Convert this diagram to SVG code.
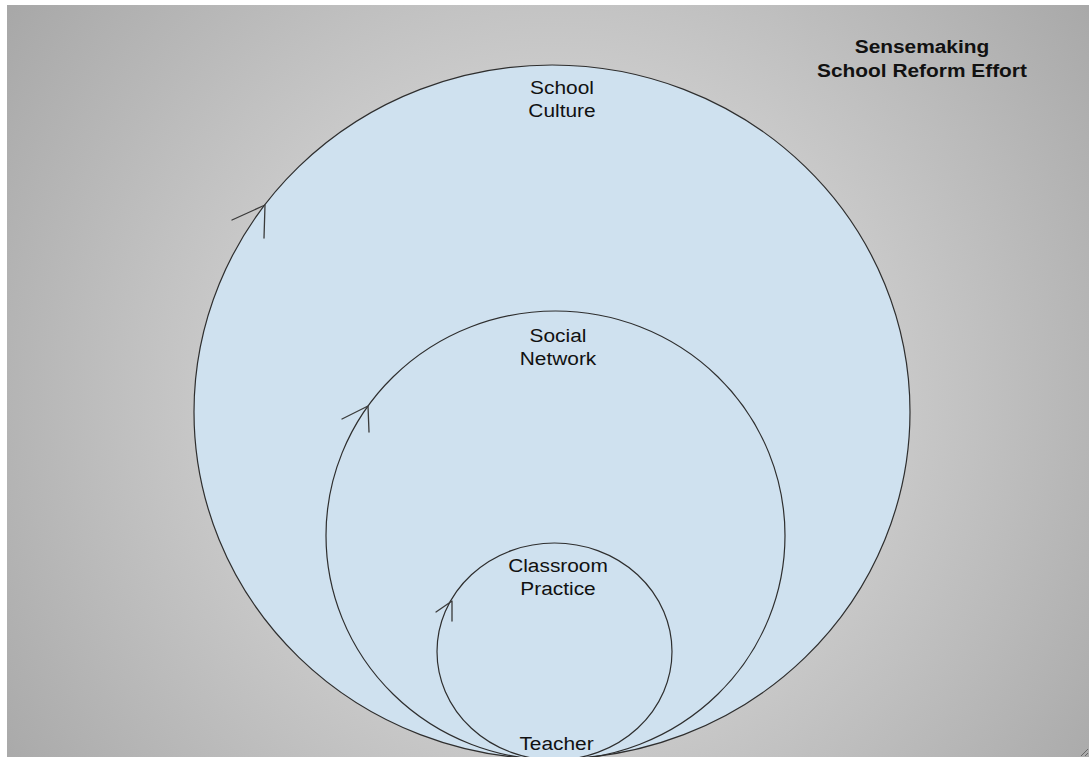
<svg xmlns="http://www.w3.org/2000/svg" width="1089" height="757" viewBox="0 0 1089 757">
  <defs>
    <radialGradient id="bg" gradientUnits="userSpaceOnUse" cx="556" cy="400" r="680">
      <stop offset="0" stop-color="#cecece"/>
      <stop offset="0.5" stop-color="#c9c9c9"/>
      <stop offset="0.75" stop-color="#b8b8b8"/>
      <stop offset="1" stop-color="#a7a7a7"/>
    </radialGradient>
    <style>
      .ell { fill: #cfe1ef; stroke: #2e2e2e; stroke-width: 1.2; }
      .ell2 { fill: none; stroke: #2e2e2e; stroke-width: 1.2; }
      .arr { fill: none; stroke: #3a3a3a; stroke-width: 1.3; stroke-linecap: round; stroke-linejoin: round; }
      .lbl { font-family: "Liberation Sans", Arial, sans-serif; font-size: 18px; fill: #111; text-anchor: middle; }
      .ttl { font-family: "Liberation Sans", Arial, sans-serif; font-size: 18px; font-weight: bold; fill: #111; text-anchor: middle; }
    </style>
  </defs>
  <rect x="0" y="0" width="1089" height="757" fill="#ffffff"/>
  <rect x="7" y="5" width="1082" height="752" fill="url(#bg)"/>

  <g id="school-culture">
    <ellipse class="ell" cx="552" cy="412" rx="358" ry="347"/>
    <g transform="translate(562,0) scale(1.16,1)">
      <text class="lbl" x="0" y="94">School</text>
      <text class="lbl" x="0" y="117">Culture</text>
    </g>
  </g>

  <g id="social-network">
    <ellipse class="ell2" cx="555.5" cy="535.5" rx="229.5" ry="224.5"/>
    <g transform="translate(558,0) scale(1.16,1)">
      <text class="lbl" x="0" y="342">Social</text>
      <text class="lbl" x="0" y="365">Network</text>
    </g>
  </g>

  <g id="classroom-practice">
    <ellipse class="ell2" cx="554.5" cy="651.5" rx="117.5" ry="108.5"/>
    <g transform="translate(558,0) scale(1.16,1)">
      <text class="lbl" x="0" y="572">Classroom</text>
      <text class="lbl" x="0" y="595">Practice</text>
    </g>
  </g>

  <g id="teacher">
    <g transform="translate(556.5,0) scale(1.16,1)">
      <text class="lbl" x="0" y="750">Teacher</text>
    </g>
  </g>

  <g id="title">
    <g transform="translate(922,0) scale(1.16,1)">
      <text class="ttl" x="0" y="53">Sensemaking</text>
      <text class="ttl" x="0" y="77">School Reform Effort</text>
    </g>
  </g>

  <g id="connectors">
    <path class="arr" d="M232,220 L265,205 L264,238"/>
    <path class="arr" d="M342,419 L368,406 L369,432"/>
    <path class="arr" d="M436,612 L452,601 L452,621"/>
  </g>

  <g id="grip" stroke="#666" stroke-width="1">
    <line x1="1081" y1="756" x2="1088" y2="749"/>
    <line x1="1085" y1="756" x2="1088" y2="753"/>
  </g>
</svg>
